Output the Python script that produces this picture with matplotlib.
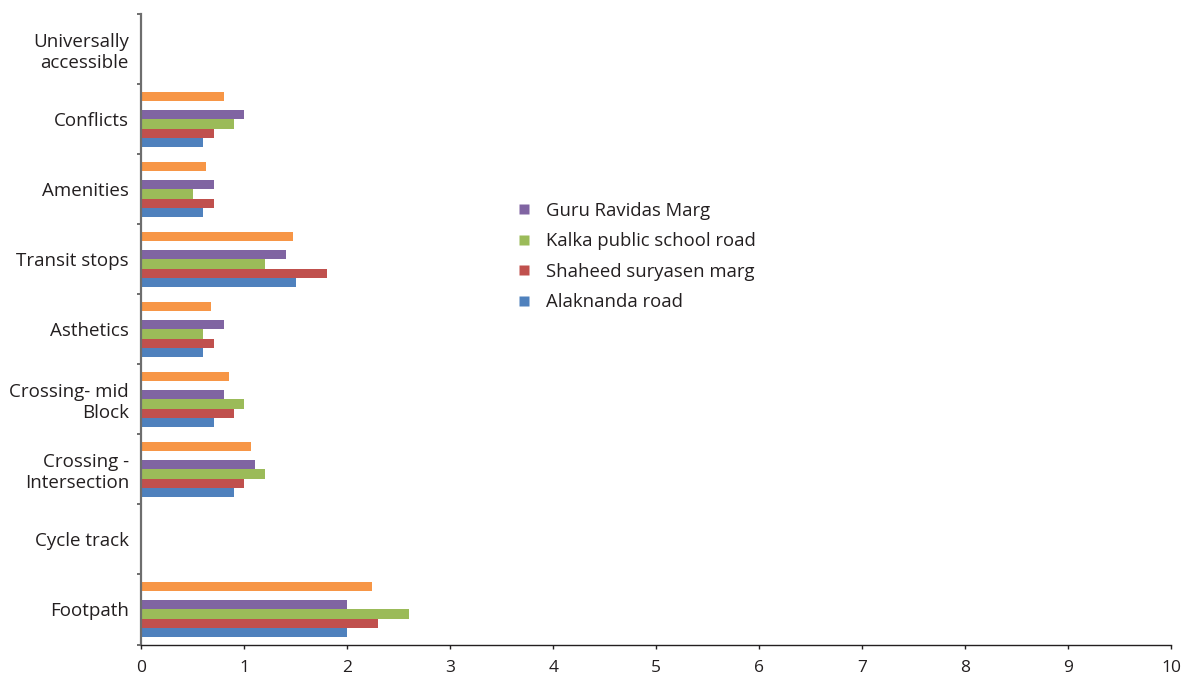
import matplotlib
matplotlib.use("Agg")
import matplotlib.pyplot as plt
from matplotlib.lines import Line2D
import numpy as np

plt.rcParams['font.family'] = ['Open Sans', 'DejaVu Sans']

categories = ["Footpath", "Cycle track", "Crossing -\nIntersection", "Crossing- mid\nBlock",
              "Asthetics", "Transit stops", "Amenities", "Conflicts", "Universally\naccessible"]

alaknanda = [2.0, 0, 0.9, 0.7, 0.6, 1.5, 0.6, 0.6, 0]
shaheed = [2.3, 0, 1.0, 0.9, 0.7, 1.8, 0.7, 0.7, 0]
kalka = [2.6, 0, 1.2, 1.0, 0.6, 1.2, 0.5, 0.9, 0]
guru = [2.0, 0, 1.1, 0.8, 0.8, 1.4, 0.7, 1.0, 0]
unlabelled_empty = [0, 0, 0, 0, 0, 0, 0, 0, 0]
unlabelled_orange = [2.24, 0, 1.06, 0.85, 0.68, 1.47, 0.63, 0.8, 0]

series = [
    ("Alaknanda road", alaknanda, "#4F81BD", True),
    ("Shaheed suryasen marg", shaheed, "#C0504D", True),
    ("Kalka public school road", kalka, "#9BBB59", True),
    ("Guru Ravidas Marg", guru, "#8064A2", True),
    ("", unlabelled_empty, "#4BACC6", False),
    ("", unlabelled_orange, "#F79646", False),
]

fig = plt.figure(figsize=(11.82, 6.77), dpi=100)
ax = fig.add_axes([0.1197, 0.0480, 0.9907 - 0.1197, 0.979 - 0.0480])

y = np.arange(len(categories))
h = 0.132
for i, (name, vals, col, _) in enumerate(series):
    off = -0.33 + i * h
    ax.barh(y + off, vals, height=h, color=col, edgecolor='none')

ax.set_xlim(0, 10)
ax.set_ylim(-0.5, len(categories) - 0.5)
ax.set_xticks(range(0, 11))
ax.set_yticks(y)
ax.set_yticklabels(categories, ha='right', multialignment='right', fontsize=13.5, color='#231f20')
ax.set_yticks(np.arange(-0.5, len(categories), 1.0), minor=True)
ax.tick_params(axis='y', which='major', length=0, pad=9)
ax.tick_params(axis='y', which='minor', length=3, width=1.2, color='#555555', direction='out')
ax.tick_params(axis='x', which='major', length=3, width=1, color='#231f20', labelsize=12.5,
               labelcolor='#231f20', pad=8)
for s in ['top', 'right']:
    ax.spines[s].set_visible(False)
ax.spines['left'].set_color('#6e6e6e')
ax.spines['left'].set_linewidth(1.6)
ax.spines['bottom'].set_color('#231f20')
ax.spines['bottom'].set_linewidth(1)

handles = []
labels = []
for name, vals, col, show in reversed(series):
    if show:
        handles.append(Line2D([], [], linestyle='none', marker='s', markersize=7,
                              markerfacecolor=col, markeredgecolor='none'))
        labels.append(name)
fig.legend(handles, labels, loc='upper left', bbox_to_anchor=(498 / 1182, 1 - 185 / 677),
           frameon=False, fontsize=13.3, labelspacing=0.68, handletextpad=0.7,
           handlelength=1.0, labelcolor='#231f20')

fig.savefig("out.png", dpi=100)
